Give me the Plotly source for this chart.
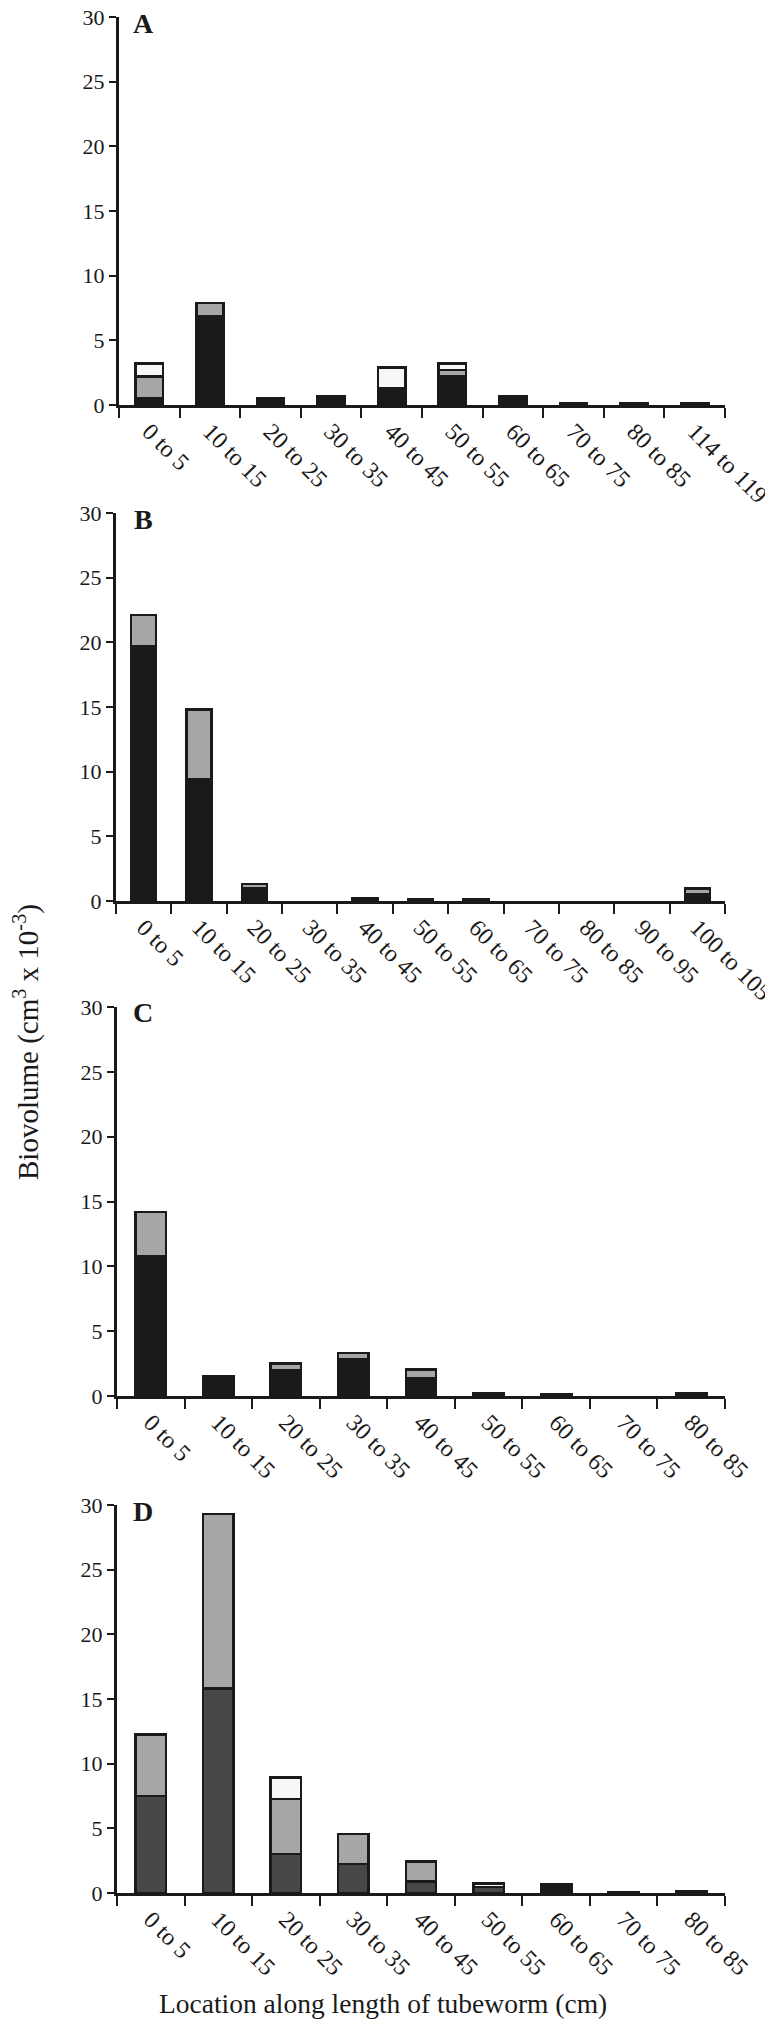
import plotly.graph_objects as go

W, H = 773, 2025
OFF = 8  # the page body adds an 8px margin around the figure

# ---------------- data ----------------
cats_A = ["0 to 5", "10 to 15", "20 to 25", "30 to 35", "40 to 45", "50 to 55",
          "60 to 65", "70 to 75", "80 to 85", "114 to 119"]
A_dark = [0.2, 0, 0, 0, 0, 0, 0, 0, 0, 0]
A_black = [0.3, 6.9, 0.5, 0.65, 1.3, 2.2, 0.5, 0.1, 0.1, 0.1]
A_gray = [1.7, 1.0, 0, 0, 0, 0.5, 0, 0, 0, 0]
A_white = [1.0, 0, 0, 0, 1.6, 0.5, 0.2, 0, 0, 0]

cats_B = ["0 to 5", "10 to 15", "20 to 25", "30 to 35", "40 to 45", "50 to 55",
          "60 to 65", "70 to 75", "80 to 85", "90 to 95", "100 to 105"]
B_dark = [0, 0, 0, 0, 0, 0, 0, 0, 0, 0, 0]
B_black = [19.7, 9.4, 0.98, 0, 0.18, 0.12, 0.12, 0, 0, 0, 0.5]
B_gray = [2.4, 5.4, 0.35, 0, 0, 0, 0, 0, 0, 0, 0.45]
B_white = [0, 0, 0, 0, 0, 0, 0, 0, 0, 0, 0]

cats_C = ["0 to 5", "10 to 15", "20 to 25", "30 to 35", "40 to 45", "50 to 55",
          "60 to 65", "70 to 75", "80 to 85"]
C_dark = [0, 0, 0, 0, 0, 0, 0, 0, 0]
C_black = [10.8, 1.5, 2.0, 2.85, 1.35, 0.2, 0.15, 0, 0.2]
C_gray = [3.4, 0, 0.5, 0.45, 0.7, 0, 0, 0, 0]
C_white = [0, 0, 0, 0, 0, 0, 0, 0, 0]

cats_D = ["0 to 5", "10 to 15", "20 to 25", "30 to 35", "40 to 45", "50 to 55",
          "60 to 65", "70 to 75", "80 to 85"]
D_dark = [7.5, 15.8, 3.0, 2.25, 0.9, 0.45, 0.2, 0.08, 0.12]
D_black = [0, 0, 0, 0, 0, 0, 0.5, 0, 0]
D_gray = [4.75, 13.5, 4.25, 2.3, 1.55, 0, 0, 0, 0]
D_white = [0, 0, 1.7, 0, 0, 0.3, 0, 0, 0]

y_ticks = [0, 5, 10, 15, 20, 25, 30]
panel_labels = ["A", "B", "C", "D"]

# ---------------- styling / layout ----------------
FONT = "Liberation Serif, Times New Roman, serif"
INK = "#1a1a1a"
colors = {"dark": "#474747", "black": "#1a1a1a", "gray": "#a6a6a6", "white": "#f7f7f7"}

# page-pixel positions: (left, right, top(30), bottom(0))
panels = [
    (cats_A, [A_dark, A_black, A_gray, A_white], 119, 725, 17, 405),
    (cats_B, [B_dark, B_black, B_gray, B_white], 116, 725, 513, 901),
    (cats_C, [C_dark, C_black, C_gray, C_white], 117, 725, 1007, 1396),
    (cats_D, [D_dark, D_black, D_gray, D_white], 117, 725, 1505, 1893),
]


def px(xp):
    return (xp - OFF) / W


def py(yp):
    return 1 - (yp - OFF) / H


fig = go.Figure()
layout = dict(
    template="none",
    width=W, height=H, margin=dict(l=0, r=0, t=0, b=0, autoexpand=False),
    paper_bgcolor="white", plot_bgcolor="white",
    barmode="stack", bargap=0.55, showlegend=False,
    font=dict(family=FONT, color=INK, size=22),
)

annotations = []
for i, (cats, series, x0, x1, ytop, ybot) in enumerate(panels):
    k = "" if i == 0 else str(i + 1)
    xa, ya = "x" + k, "y" + k
    for name, vals in zip(["dark", "black", "gray", "white"], series):
        fig.add_trace(go.Bar(
            x=cats, y=[v if v > 0 else None for v in vals],
            xaxis=xa, yaxis=ya, name=name,
            marker=dict(color=colors[name], line=dict(color=INK, width=2.5)),
            hoverinfo="skip",
        ))
    layout["xaxis" + k] = dict(
        domain=[px(x0), px(x1)], anchor=ya, type="category", automargin=False,
        range=[-0.5, len(cats) - 0.5],
        showline=True, linewidth=3, linecolor=INK,
        ticks="outside", tickson="boundaries", ticklen=10, tickwidth=2, tickcolor=INK,
        tickangle=45, tickfont=dict(family=FONT, size=24, color=INK),
        ticklabeloverflow="allow",
        showgrid=False, zeroline=False, fixedrange=True,
    )
    layout["yaxis" + k] = dict(
        domain=[py(ybot), py(ytop)], anchor=xa, automargin=False,
        range=[0, 30], tickvals=y_ticks,
        showline=True, linewidth=3, linecolor=INK,
        ticks="outside", ticklen=7, tickwidth=2, tickcolor=INK,
        tickfont=dict(family=FONT, size=22, color=INK),
        ticklabeloverflow="allow",
        showgrid=False, zeroline=False, fixedrange=True,
    )
    annotations.append(dict(
        text="<b>%s</b>" % panel_labels[i], xref="paper", yref="paper",
        x=px(143), y=py(ytop + 6), xanchor="center", yanchor="middle",
        showarrow=False, font=dict(family=FONT, size=28, color=INK),
    ))

annotations.append(dict(
    text="Biovolume (cm<sup>3</sup> x 10<sup>-3</sup>)", xref="paper", yref="paper",
    x=px(26), y=py(1042), xanchor="center", yanchor="middle", textangle=-90,
    showarrow=False, font=dict(family=FONT, size=29, color=INK),
))
annotations.append(dict(
    text="Location along length of tubeworm (cm)", xref="paper", yref="paper",
    x=px(383), y=py(2003), xanchor="center", yanchor="middle",
    showarrow=False, font=dict(family=FONT, size=27.5, color=INK),
))
layout["annotations"] = annotations

fig.update_layout(**layout)
fig.write_html("out.html")
